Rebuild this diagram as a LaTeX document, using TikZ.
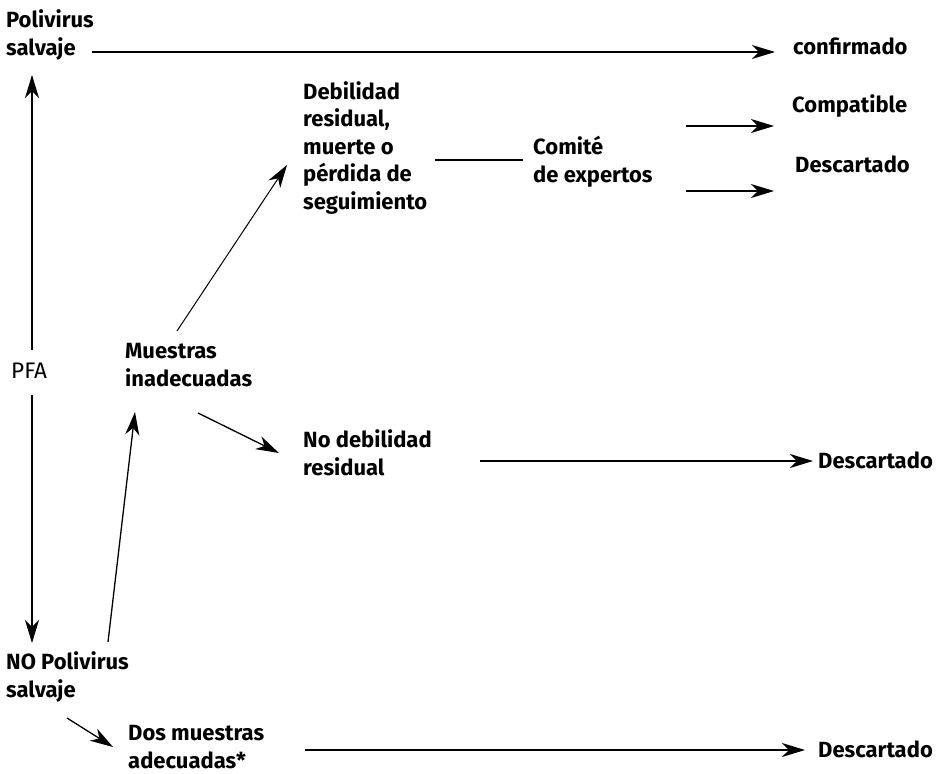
\documentclass[tikz,border=0pt]{standalone}
\usepackage{fontspec}
\setmainfont{Fira Sans}
\usetikzlibrary{arrows.meta}
\tikzset{
  lbl/.style={anchor=west, inner sep=0pt, align=left, font=\fontsize{22}{27.5}\selectfont\bfseries},
  plain/.style={anchor=west, inner sep=0pt, align=left, font=\fontsize{22.5}{27.5}\selectfont},
  conn/.style={line width=1.3pt, draw=black},
  arr/.style={conn, -{Stealth[length=23pt,width=14pt,inset=7pt]}}
}
\begin{document}
\begin{tikzpicture}[x=1pt,y=-1pt]
\useasboundingbox (0,0) rectangle (938,774);
% nodes
\node[lbl] (pv) at (6,35) {Polivirus\\salvaje};
\node[lbl] (conf) at (793,46) {confirmado};
\node[lbl] (comp) at (792,106) {Compatible};
\node[lbl] (desc1) at (795,164) {Descartado};
\node[lbl] (deb) at (303,148) {Debilidad\\residual,\\muerte o\\pérdida de\\seguimiento};
\node[lbl] (com) at (533,162) {Comité\\de expertos};
\node[plain] (pfa) at (11,371) {PFA};
\node[lbl] (mue) at (125,365) {Muestras\\inadecuadas};
\node[lbl] (nod) at (303,453) {No debilidad\\residual};
\node[lbl] (desc2) at (818,460) {Descartado};
\node[lbl] (nopv) at (6,677) {NO Polivirus\\salvaje};
\node[lbl] (dos) at (128,747) {Dos muestras\\adecuadas*};
\node[lbl] (desc3) at (818,749) {Descartado};
% coordinates
\coordinate (pvE) at (92,52);
\coordinate (confW) at (775,52);
\coordinate (comE1) at (686,126);
\coordinate (compW) at (774,126);
\coordinate (comE2) at (686,191);
\coordinate (desc1W) at (774,191);
\coordinate (debE) at (435,160);
\coordinate (comW) at (523,160);
\coordinate (pfaN) at (32,350);
\coordinate (pvS) at (32,75);
\coordinate (pfaS) at (32,395);
\coordinate (nopvN) at (32,643);
\coordinate (mueN) at (177,331);
\coordinate (debW) at (287,165);
\coordinate (mueS) at (198,413);
\coordinate (nodW) at (279,453);
\coordinate (nopvNE) at (108,642);
\coordinate (mueSW) at (135,412);
\coordinate (nodE) at (480,461);
\coordinate (desc2W) at (813,461);
\coordinate (nopvS) at (67,718);
\coordinate (dosW) at (113,747);
\coordinate (dosE) at (305,750);
\coordinate (desc3W) at (805,750);
% connectors
\draw[arr] (pvE) -- (confW);
\draw[arr] (comE1) -- (compW);
\draw[arr] (comE2) -- (desc1W);
\draw[conn] (debE) -- (comW);
\draw[arr] (pfaN) -- (pvS);
\draw[arr] (pfaS) -- (nopvN);
\draw[arr, line width=1pt] (mueN) -- (debW);
\draw[arr] (mueS) -- (nodW);
\draw[arr] (nopvNE) -- (mueSW);
\draw[arr] (nodE) -- (desc2W);
\draw[arr] (nopvS) -- (dosW);
\draw[arr] (dosE) -- (desc3W);
\end{tikzpicture}
\end{document}
